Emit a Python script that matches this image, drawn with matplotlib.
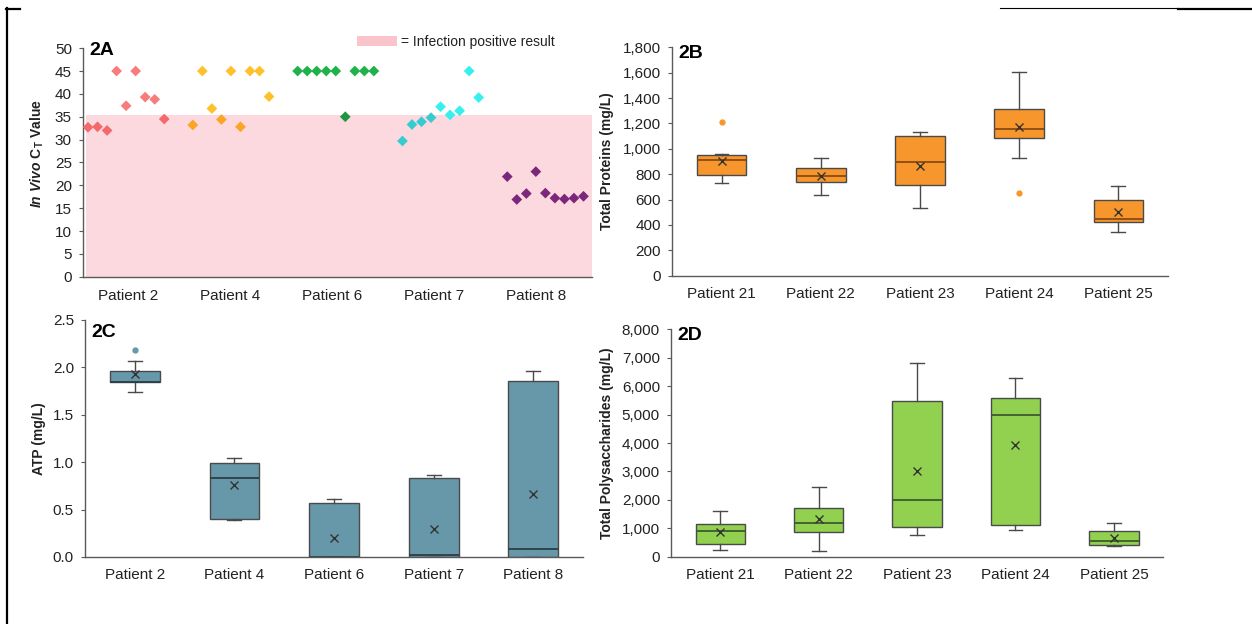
import matplotlib.pyplot as plt
import matplotlib.ticker as mticker
from matplotlib.lines import Line2D
from matplotlib.patches import Rectangle
import numpy as np

plt.rcParams['font.family'] = ['Liberation Sans', 'DejaVu Sans']
plt.rcParams['mathtext.fontset'] = 'custom'
plt.rcParams['mathtext.rm'] = 'Liberation Sans:bold'
plt.rcParams['mathtext.it'] = 'Liberation Sans:italic:bold'
plt.rcParams['mathtext.bf'] = 'Liberation Sans:bold'

# ---- 2A: in vivo Ct values (9 samples per patient)
ct_patients = ['Patient 2', 'Patient 4', 'Patient 6', 'Patient 7', 'Patient 8']
ct_p2 = [32.7, 32.8, 32.0, 45.0, 37.4, 45.0, 39.3, 38.8, 34.5]
ct_p4 = [33.2, 45.0, 36.8, 34.4, 45.0, 32.8, 45.0, 45.0, 39.4]
ct_p6 = [45.0, 45.0, 45.0, 45.0, 45.0, 35.0, 45.0, 45.0, 45.0]
ct_p7 = [29.7, 33.3, 33.9, 34.8, 37.2, 35.4, 36.3, 45.0, 39.2]
ct_p8 = [21.9, 16.9, 18.2, 23.0, 18.3, 17.2, 17.0, 17.2, 17.6]
ct_values = [ct_p2, ct_p4, ct_p6, ct_p7, ct_p8]
ct_colors = ['#F87C7C', '#FFC12B', '#1FB24A', '#36F0F0', '#7E2E8E']
positive_cutoff = 35.4

# ---- 2B: total proteins (mg/L) box stats
prot_patients = ['Patient 21', 'Patient 22', 'Patient 23', 'Patient 24', 'Patient 25']
prot_whislo = [731, 639, 531, 928, 344]
prot_q1 = [794, 736, 715, 1088, 423]
prot_med = [912, 788, 899, 1154, 449]
prot_q3 = [949, 846, 1101, 1311, 597]
prot_whishi = [959, 928, 1133, 1603, 707]
prot_mean = [907, 786, 865, 1172, 505]
prot_fliers = [[1212], [], [], [652], []]

# ---- 2C: ATP (mg/L) box stats
atp_patients = ['Patient 2', 'Patient 4', 'Patient 6', 'Patient 7', 'Patient 8']
atp_whislo = [1.744, 0.39, 0.0, 0.0, 0.0]
atp_q1 = [1.85, 0.404, 0.0, 0.0, 0.0]
atp_med = [1.85, 0.837, 0.0, 0.025, 0.084]
atp_q3 = [1.965, 0.99, 0.57, 0.833, 1.853]
atp_whishi = [2.07, 1.048, 0.612, 0.868, 1.962]
atp_mean = [1.927, 0.756, 0.197, 0.292, 0.661]
atp_fliers = [[2.18], [], [], [], []]

# ---- 2D: total polysaccharides (mg/L) box stats
poly_patients = ['Patient 21', 'Patient 22', 'Patient 23', 'Patient 24', 'Patient 25']
poly_whislo = [223, 199, 774, 950, 375]
poly_q1 = [446, 880, 1044, 1114, 399]
poly_med = [903, 1185, 1982, 4985, 540]
poly_q3 = [1138, 1713, 5490, 5572, 891]
poly_whishi = [1619, 2452, 6827, 6276, 1196]
poly_mean = [880, 1314, 3015, 3930, 657]
poly_fliers = [[], [], [], [], []]

band_color = '#FBD9DE'
spine_color = '#5a5a5a'
text_color = '#222222'


def style_axes(ax, label_pad=8.5):
    for s in ['top', 'right']:
        ax.spines[s].set_visible(False)
    for s in ['left', 'bottom']:
        ax.spines[s].set_color(spine_color)
        ax.spines[s].set_linewidth(1.0)
    ax.tick_params(axis='y', direction='out', length=3, width=0.8, color=spine_color,
                   labelsize=11, labelcolor=text_color, pad=5)
    ax.tick_params(axis='x', length=0, labelsize=11, labelcolor=text_color, pad=label_pad)


def make_stats(whislo, q1, med, q3, whishi, mean, fliers):
    return [dict(whislo=a, q1=b, med=c, q3=d, whishi=e, mean=f, fliers=g)
            for a, b, c, d, e, f, g in zip(whislo, q1, med, q3, whishi, mean, fliers)]


def draw_boxes(ax, stats, face, median_color):
    ax.bxp(stats, positions=range(len(stats)), widths=0.5, capwidths=0.14,
           patch_artist=True, showmeans=True, showfliers=True,
           boxprops=dict(facecolor=face, edgecolor='#4a4a4a', linewidth=1.0),
           medianprops=dict(color=median_color, linewidth=1.3),
           whiskerprops=dict(color='#4a4a4a', linewidth=1.0),
           capprops=dict(color='#4a4a4a', linewidth=1.0),
           meanprops=dict(marker='x', markeredgecolor='#333333', markersize=6,
                          markeredgewidth=1.0),
           flierprops=dict(marker='o', markerfacecolor=face, markeredgecolor=face,
                           markersize=3.5))
    ax.set_xlim(-0.5, len(stats) - 0.5)


def panel_label(ax, text, y):
    ax.text(0.012, y, text, transform=ax.transAxes, fontsize=14, fontweight='bold',
            va='top', ha='left', color='black')


fig = plt.figure(figsize=(12.52, 6.24), dpi=100)

# ---------- 2A
axA = fig.add_axes([0.0663, 0.5565, 0.4066, 0.3663])
group_start = 1
for vals, col in zip(ct_values, ct_colors):
    xs = np.arange(group_start, group_start + len(vals))
    base = np.array(plt.matplotlib.colors.to_rgb(col))
    band = np.array(plt.matplotlib.colors.to_rgb(band_color))
    cols = [tuple(base * band) if v < positive_cutoff else tuple(base) for v in vals]
    axA.scatter(xs, vals, marker='D', s=30, c=cols, linewidths=0, zorder=3)
    group_start += len(vals) + 2
axA.axhspan(0, positive_cutoff, xmin=0.006, xmax=1.0, color=band_color, zorder=1, lw=0)
axA.set_xlim(0.475, 53.9)
axA.set_ylim(0, 50)
axA.set_yticks(np.arange(0, 51, 5))
axA.set_xticks(np.linspace(5.2, 48.0, len(ct_patients)))
axA.set_xticklabels(ct_patients)
style_axes(axA)
axA.set_ylabel(r'$\mathit{In\ Vivo}\ \mathrm{C}_{\mathrm{T}}$ Value', fontsize=10,
               fontweight='bold', color=text_color)
axA.yaxis.set_label_coords(-0.073, 0.54)
panel_label(axA, '2A', 1.025)

# legend of the band
fig.add_artist(Rectangle((357 / 1252, 1 - 46 / 624), 40 / 1252, 10 / 624,
                         transform=fig.transFigure, facecolor='#F9C4CB', lw=0))
fig.text(401 / 1252, 1 - 42 / 624, '= Infection positive result', fontsize=10,
         va='center', ha='left', color=text_color)

# ---------- 2B
axB = fig.add_axes([0.5367, 0.5582, 0.3962, 0.366])
draw_boxes(axB, make_stats(prot_whislo, prot_q1, prot_med, prot_q3, prot_whishi,
                           prot_mean, prot_fliers), '#F7962C', '#8A4A12')
axB.set_ylim(0, 1800)
axB.set_yticks(np.arange(0, 1801, 200))
axB.yaxis.set_major_formatter(mticker.FuncFormatter(lambda v, p: f'{v:,.0f}'))
axB.set_xticks(range(len(prot_patients)))
axB.set_xticklabels(prot_patients)
style_axes(axB, 8)
axB.set_ylabel('Total Proteins (mg/L)', fontsize=10, fontweight='bold', color=text_color)
axB.yaxis.set_label_coords(-0.117, 0.5)
panel_label(axB, '2B', 1.01)

# ---------- 2C
axC = fig.add_axes([0.0679, 0.1074, 0.3978, 0.3798])
draw_boxes(axC, make_stats(atp_whislo, atp_q1, atp_med, atp_q3, atp_whishi,
                           atp_mean, atp_fliers), '#6698A9', '#2c3e45')
axC.set_ylim(0, 2.5)
axC.set_yticks(np.arange(0, 2.51, 0.5))
axC.yaxis.set_major_formatter(mticker.FuncFormatter(lambda v, p: f'{v:.1f}'))
axC.set_xticks(range(len(atp_patients)))
axC.set_xticklabels(atp_patients)
style_axes(axC, 8)
axC.set_ylabel('ATP (mg/L)', fontsize=10, fontweight='bold', color=text_color)
axC.yaxis.set_label_coords(-0.078, 0.5)
panel_label(axC, '2C', 0.985)

# ---------- 2D
axD = fig.add_axes([0.536, 0.1078, 0.393, 0.3644])
draw_boxes(axD, make_stats(poly_whislo, poly_q1, poly_med, poly_q3, poly_whishi,
                           poly_mean, poly_fliers), '#92D050', '#3f5a30')
axD.set_ylim(0, 8000)
axD.set_yticks(np.arange(0, 8001, 1000))
axD.yaxis.set_major_formatter(mticker.FuncFormatter(lambda v, p: f'{v:,.0f}'))
axD.set_xticks(range(len(poly_patients)))
axD.set_xticklabels(poly_patients)
style_axes(axD, 8)
axD.set_ylabel('Total Polysaccharides (mg/L)', fontsize=10, fontweight='bold',
               color=text_color)
axD.yaxis.set_label_coords(-0.116, 0.5)
panel_label(axD, '2D', 1.01)

# page frame fragments
W, H = 1252, 624
fig.add_artist(Line2D([7 / W, 7 / W], [0, 1 - 8 / H], transform=fig.transFigure,
                      color='black', lw=1.6))
fig.add_artist(Line2D([6 / W, 20 / W], [1 - 8.5 / H, 1 - 8.5 / H],
                      transform=fig.transFigure, color='black', lw=1.6))
fig.add_artist(Line2D([1000 / W, 1178 / W], [1 - 8 / H, 1 - 8 / H],
                      transform=fig.transFigure, color='black', lw=0.8))
fig.add_artist(Line2D([1178 / W, 1], [1 - 8.5 / H, 1 - 8.5 / H],
                      transform=fig.transFigure, color='black', lw=1.6))

fig.savefig('out.png', dpi=100)
